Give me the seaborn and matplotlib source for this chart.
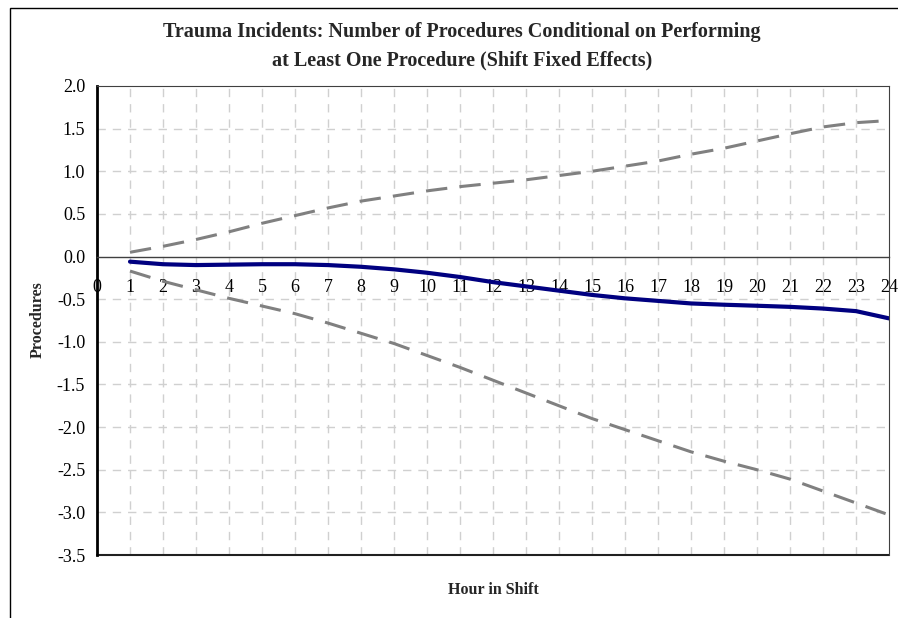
import pandas as pd
import seaborn as sns
import matplotlib.pyplot as plt
from matplotlib.patches import Rectangle

hours = list(range(1, 25))
estimate = [-0.06, -0.09, -0.10, -0.095, -0.09, -0.09, -0.10, -0.12, -0.15, -0.19, -0.24, -0.30,
            -0.35, -0.40, -0.45, -0.49, -0.52, -0.55, -0.565, -0.577, -0.59, -0.61, -0.64, -0.725]
upper = [0.05, 0.12, 0.20, 0.29, 0.39, 0.48, 0.57, 0.65, 0.71, 0.77, 0.82, 0.86,
         0.90, 0.95, 1.00, 1.06, 1.12, 1.20, 1.27, 1.355, 1.44, 1.52, 1.57, 1.595]
lower = [-0.17, -0.29, -0.39, -0.49, -0.58, -0.67, -0.78, -0.90, -1.02, -1.16, -1.30, -1.45,
         -1.60, -1.75, -1.90, -2.03, -2.16, -2.29, -2.40, -2.50, -2.61, -2.75, -2.89, -3.03]
x_ticks = list(range(0, 25))
y_ticks = [-3.5, -3.0, -2.5, -2.0, -1.5, -1.0, -0.5, 0.0, 0.5, 1.0, 1.5, 2.0]

df = pd.DataFrame({"hour": hours, "est": estimate, "hi": upper, "lo": lower})

sns.set_style("white")
plt.rcParams["font.family"] = ["Liberation Serif", "DejaVu Serif"]
plt.rcParams["axes.unicode_minus"] = False

fig = plt.figure(figsize=(8.98, 6.18), dpi=100)
ax = fig.add_axes([97 / 898, 1 - 555 / 618, (889 - 97) / 898, (555 - 86) / 618])

# grid
for v in x_ticks[1:-1]:
    ax.axvline(v, color="#d0d0d0", lw=1, ls=(0, (6, 5)), zorder=0)
for h in y_ticks[1:-1]:
    if h != 0:
        ax.axhline(h, color="#d0d0d0", lw=1, ls=(0, (6, 5)), zorder=0)

sns.lineplot(data=df, x="hour", y="hi", ax=ax, color="#808080", lw=2.2, dashes=False)
sns.lineplot(data=df, x="hour", y="lo", ax=ax, color="#808080", lw=2.2, dashes=False)
for l in ax.lines[-2:]:
    l.set_linestyle((0, (7, 4)))
sns.lineplot(data=df, x="hour", y="est", ax=ax, color="#000080", lw=3)

ax.set_xlim(0, 24)
ax.set_ylim(-3.5, 2.0)
ax.set_xticks(x_ticks)
ax.set_xticklabels([str(t) for t in x_ticks])
ax.set_yticks(y_ticks)
ax.set_yticklabels([f"{t:.1f}" for t in y_ticks])

ax.spines["bottom"].set_position(("data", 0))
ax.spines["bottom"].set_color("#404040")
ax.spines["bottom"].set_linewidth(1)
ax.spines["left"].set_linewidth(2)
ax.spines["left"].set_color("black")
ax.spines["top"].set_color("#404040")
ax.spines["right"].set_color("#404040")
ax.axhline(-3.5, color="#202020", lw=1.5, clip_on=False)

ax.tick_params(axis="x", direction="inout", length=8, width=1, colors="#202020",
               labelsize=13, pad=12, labelcolor="black")
ax.tick_params(axis="y", direction="out", length=5, width=1, colors="#404040",
               labelsize=13, labelcolor="black")
ax.set_xlabel("")
ax.set_ylabel("")

fig.text(462 / 898, 1 - 32 / 618, "Trauma Incidents: Number of Procedures Conditional on Performing",
         ha="center", va="center", fontsize=14.5, fontweight="bold")
fig.text(462 / 898, 1 - 60 / 618, "at Least One Procedure (Shift Fixed Effects)",
         ha="center", va="center", fontsize=14.5, fontweight="bold")
fig.text(38 / 898, 1 - 320 / 618, "Procedures", rotation=90, ha="center", va="center",
         fontsize=11.5, fontweight="bold")
fig.text(493 / 898, 1 - 590 / 618, "Hour in Shift", ha="center", va="center",
         fontsize=11.5, fontweight="bold")

fig.patches.append(Rectangle((10 / 898, -0.1), 1.2, 1 - 8 / 618 + 0.1, transform=fig.transFigure,
                             fill=False, edgecolor="black", lw=1))

fig.savefig("out.png", dpi=100)
